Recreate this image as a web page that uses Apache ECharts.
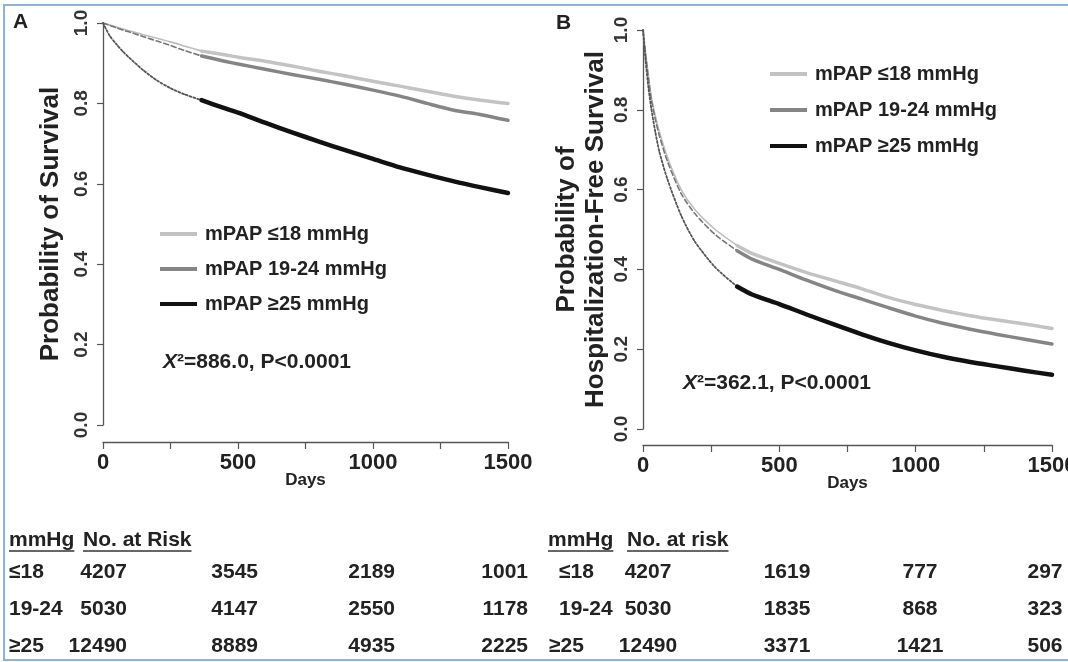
<!DOCTYPE html>
<html>
<head>
<meta charset="utf-8">
<script src="https://cdn.jsdelivr.net/npm/echarts@6/dist/echarts.min.js"></script>
<style>
html,body{margin:0;padding:0;background:#fff;}
#chart{width:1068px;height:662px;}
</style>
</head>
<body>
<div id="chart"></div>
<script>
// ---------- DATA ----------
const groupNames = ['mPAP ≤18 mmHg', 'mPAP 19-24 mmHg', 'mPAP ≥25 mmHg'];
const groupLabels = ['≤18', '19-24', '≥25'];
const xTickLabels = [0, 500, 1000, 1500];

// Panel A: overall survival
const A_earlyDays = [0, 25, 50, 75, 100, 150, 200, 250, 300, 365];
const A_le18_early = [1.0, 0.995, 0.99, 0.985, 0.98, 0.971, 0.962, 0.953, 0.943, 0.93];
const A_1924_early = [1.0, 0.994, 0.988, 0.982, 0.977, 0.966, 0.955, 0.944, 0.932, 0.918];
const A_ge25_early = [1.0, 0.968, 0.947, 0.928, 0.912, 0.882, 0.857, 0.838, 0.823, 0.808];
const A_lateDays = [365, 450, 500, 600, 700, 800, 900, 1000, 1100, 1200, 1300, 1400, 1500];
const A_le18_late = [0.93, 0.921, 0.915, 0.905, 0.893, 0.88, 0.868, 0.855, 0.843, 0.83, 0.818, 0.808, 0.80];
const A_1924_late = [0.918, 0.905, 0.898, 0.885, 0.872, 0.86, 0.847, 0.833, 0.818, 0.80, 0.783, 0.772, 0.758];
const A_ge25_late = [0.808, 0.788, 0.777, 0.752, 0.728, 0.705, 0.683, 0.662, 0.641, 0.623, 0.606, 0.591, 0.577];

// Panel B: hospitalization-free survival
const B_earlyDays = [0, 10, 20, 30, 45, 60, 90, 140, 190, 265, 345];
const B_le18_early = [1.0, 0.94, 0.885, 0.835, 0.785, 0.745, 0.68, 0.60, 0.55, 0.50, 0.46];
const B_1924_early = [1.0, 0.935, 0.878, 0.828, 0.777, 0.735, 0.67, 0.59, 0.54, 0.487, 0.447];
const B_ge25_early = [1.0, 0.92, 0.855, 0.805, 0.745, 0.695, 0.625, 0.535, 0.47, 0.405, 0.357];
const B_lateDays = [345, 400, 500, 600, 700, 800, 900, 1000, 1100, 1200, 1300, 1400, 1500];
const B_le18_late = [0.46, 0.44, 0.415, 0.392, 0.372, 0.352, 0.33, 0.312, 0.297, 0.284, 0.273, 0.263, 0.252];
const B_1924_late = [0.447, 0.426, 0.40, 0.373, 0.348, 0.326, 0.304, 0.283, 0.265, 0.25, 0.237, 0.225, 0.213];
const B_ge25_late = [0.357, 0.337, 0.313, 0.287, 0.262, 0.238, 0.216, 0.197, 0.181, 0.168, 0.157, 0.146, 0.136];

// Numbers at risk
const riskA_le18 = [4207, 3545, 2189, 1001];
const riskA_1924 = [5030, 4147, 2550, 1178];
const riskA_ge25 = [12490, 8889, 4935, 2225];
const riskB_le18 = [4207, 1619, 777, 297];
const riskB_1924 = [5030, 1835, 868, 323];
const riskB_ge25 = [12490, 3371, 1421, 506];

const chiA = '=886.0, P<0.0001';
const chiB = '=362.1, P<0.0001';

// ---------- STYLE / BUILD ----------
const FONT = '"Liberation Sans", Arial, Helvetica, sans-serif';
const TXT = '#222';
const C_LE18 = '#c3c3c3', C_1924 = '#858585', C_GE25 = '#111111';

function pairs(days, vals) { return days.map((d, i) => [d, vals[i]]); }
function ser(name, g, days, vals, color, width, type, z) {
  return {
    type: 'line', name: name, xAxisIndex: g, yAxisIndex: g,
    data: pairs(days, vals), symbol: 'none', showSymbol: false,
    smooth: 0.25, silent: true, z: z,
    itemStyle: { color: color },
    lineStyle: { color: color, width: width, type: type, cap: 'round', join: 'round' }
  };
}
function mkX(g, offset) {
  return {
    type: 'value', gridIndex: g, min: 0, max: 1500, interval: 250, offset: offset,
    axisLine: { show: true, onZero: false, lineStyle: { color: '#555', width: 1.3 } },
    axisTick: { show: true, length: 7, lineStyle: { color: '#555', width: 1.2 } },
    splitLine: { show: false },
    axisLabel: {
      formatter: v => (xTickLabels.indexOf(v) >= 0 ? String(v) : ''),
      fontSize: 22, fontWeight: 'bold', color: TXT, fontFamily: FONT, margin: 10,
      showMinLabel: true, showMaxLabel: true
    },
    name: 'Days', nameLocation: 'middle', nameGap: 30, nameMoveOverlap: false,
    nameTextStyle: { fontSize: 17, fontWeight: 'bold', color: TXT, fontFamily: FONT }
  };
}
function mkY(g, name, gap) {
  return {
    type: 'value', gridIndex: g, min: 0, max: 1, interval: 0.2,
    axisLine: { show: true, onZero: false, lineStyle: { color: '#555', width: 1.3 } },
    axisTick: { show: true, length: 6, lineStyle: { color: '#555', width: 1.2 } },
    splitLine: { show: false },
    axisLabel: {
      rotate: 90, formatter: v => v.toFixed(1),
      fontSize: 19, fontWeight: 'bold', color: '#333', fontFamily: FONT, margin: 12,
      showMinLabel: true, showMaxLabel: true
    },
    name: name, nameLocation: 'middle', nameRotate: 90, nameGap: gap, nameMoveOverlap: false,
    nameTextStyle: { fontSize: 26, fontWeight: 'bold', color: TXT, fontFamily: FONT, lineHeight: 29 }
  };
}

const series = [
  // Panel A early (first year)
  ser('A_le18_e', 0, A_earlyDays, A_le18_early, '#bdbdbd', 1.6, 'solid', 2),
  ser('A_1924_e', 0, A_earlyDays, A_1924_early, '#777', 1.6, [5, 3], 3),
  ser('A_ge25_e', 0, A_earlyDays, A_ge25_early, '#555', 1.8, [2, 2], 3),
  // Panel A late
  ser(groupNames[0], 0, A_lateDays, A_le18_late, C_LE18, 3.5, 'solid', 4),
  ser(groupNames[1], 0, A_lateDays, A_1924_late, C_1924, 3.5, 'solid', 4),
  ser(groupNames[2], 0, A_lateDays, A_ge25_late, C_GE25, 4.5, 'solid', 4),
  // Panel B early
  ser('B_le18_e', 1, B_earlyDays, B_le18_early, '#bdbdbd', 1.6, 'solid', 2),
  ser('B_1924_e', 1, B_earlyDays, B_1924_early, '#777', 1.6, [5, 3], 3),
  ser('B_ge25_e', 1, B_earlyDays, B_ge25_early, '#555', 1.8, [2, 2], 3),
  // Panel B late
  ser(groupNames[0], 1, B_lateDays, B_le18_late, C_LE18, 3.5, 'solid', 4),
  ser(groupNames[1], 1, B_lateDays, B_1924_late, C_1924, 3.5, 'solid', 4),
  ser(groupNames[2], 1, B_lateDays, B_ge25_late, C_GE25, 4.5, 'solid', 4)
];

function legend(left, top, gap) {
  return {
    orient: 'vertical', left: left, top: top, itemWidth: 37, itemHeight: 4, itemGap: gap,
    icon: 'rect', selectedMode: false, data: groupNames,
    textStyle: { fontSize: 20, fontWeight: 'bold', color: TXT, fontFamily: FONT, lineHeight: 22, padding: [0, 0, 0, 3] }
  };
}

// text measuring for underlines
const mctx = document.createElement('canvas').getContext('2d');
function tw(text, size) { mctx.font = 'bold ' + size + 'px ' + FONT; return mctx.measureText(text).width; }

function txt(x, y, text, size, align, extra) {
  return Object.assign({
    type: 'text', x: x, y: y, silent: true, z: 10,
    style: { text: text, fill: TXT, fontSize: size, fontWeight: 'bold', fontFamily: FONT, align: align || 'left', verticalAlign: 'middle' }
  }, extra || {});
}
function uline(x, y, w) {
  return { type: 'line', silent: true, z: 10, shape: { x1: x, y1: y, x2: x + w, y2: y }, style: { stroke: '#333', lineWidth: 1.5 } };
}

const TS = 21;
const headerY = 540;
const rowY = [572, 609, 646];
const colA = [127, 258, 395, 528];   // right-aligned
const colB = [648, 787, 920, 1045];  // centered
const riskA = [riskA_le18, riskA_1924, riskA_ge25];
const riskB = [riskB_le18, riskB_1924, riskB_ge25];

const graphic = [];
graphic.push({ type: 'rect', silent: true, z: 0, shape: { x: 4, y: 5, width: 1080, height: 655 }, style: { fill: 'none', stroke: '#8db3d6', lineWidth: 2 } });
graphic.push(txt(13, 22, 'A', 21, 'left'));
graphic.push(txt(556, 23, 'B', 21, 'left'));
function chi(x, y, rest) {
  return {
    type: 'text', x: x, y: y, silent: true, z: 10,
    style: {
      text: '{i|X}{n|²' + rest + '}', verticalAlign: 'middle', align: 'left',
      rich: {
        i: { fontSize: 21, fontWeight: 'bold', fontStyle: 'italic', fontFamily: FONT, fill: TXT },
        n: { fontSize: 21, fontWeight: 'bold', fontFamily: FONT, fill: TXT }
      }
    }
  };
}
graphic.push(chi(163, 362, chiA));
graphic.push(chi(683, 383, chiB));

// Table A
graphic.push(txt(9, headerY, 'mmHg', TS, 'left'));
graphic.push(uline(9, headerY + 11, tw('mmHg', TS)));
graphic.push(txt(83, headerY, 'No. at Risk', TS, 'left'));
graphic.push(uline(83, headerY + 11, tw('No. at Risk', TS)));
// Table B
graphic.push(txt(548, headerY, 'mmHg', TS, 'left'));
graphic.push(uline(548, headerY + 11, tw('mmHg', TS)));
graphic.push(txt(627, headerY, 'No. at risk', TS, 'left'));
graphic.push(uline(627, headerY + 11, tw('No. at risk', TS)));
for (let r = 0; r < 3; r++) {
  graphic.push(txt(9, rowY[r], groupLabels[r], TS, 'left'));
  graphic.push(txt(r === 2 ? 549 : 559, rowY[r], groupLabels[r], TS, 'left'));
  for (let c = 0; c < 4; c++) {
    graphic.push(txt(colA[c], rowY[r], String(riskA[r][c]), TS, 'right'));
    graphic.push(txt(colB[c], rowY[r], String(riskB[r][c]), TS, 'center'));
  }
}

const option = {
  animation: false,
  backgroundColor: '#ffffff',
  grid: [
    { left: 103, top: 23, width: 405, height: 402, outerBoundsMode: 'none' },
    { left: 643, top: 30, width: 409, height: 399, outerBoundsMode: 'none' }
  ],
  xAxis: [mkX(0, 17), mkX(1, 16)],
  yAxis: [mkY(0, 'Probability of Survival', 38), mkY(1, 'Probability of\nHospitalization-Free Survival', 33)],
  legend: [legend(155, 218, 13), legend(765, 58, 14)],
  series: series,
  graphic: graphic
};

const chart = echarts.init(document.getElementById('chart'), null, { renderer: 'canvas' });
chart.setOption(option);
</script>
</body>
</html>
